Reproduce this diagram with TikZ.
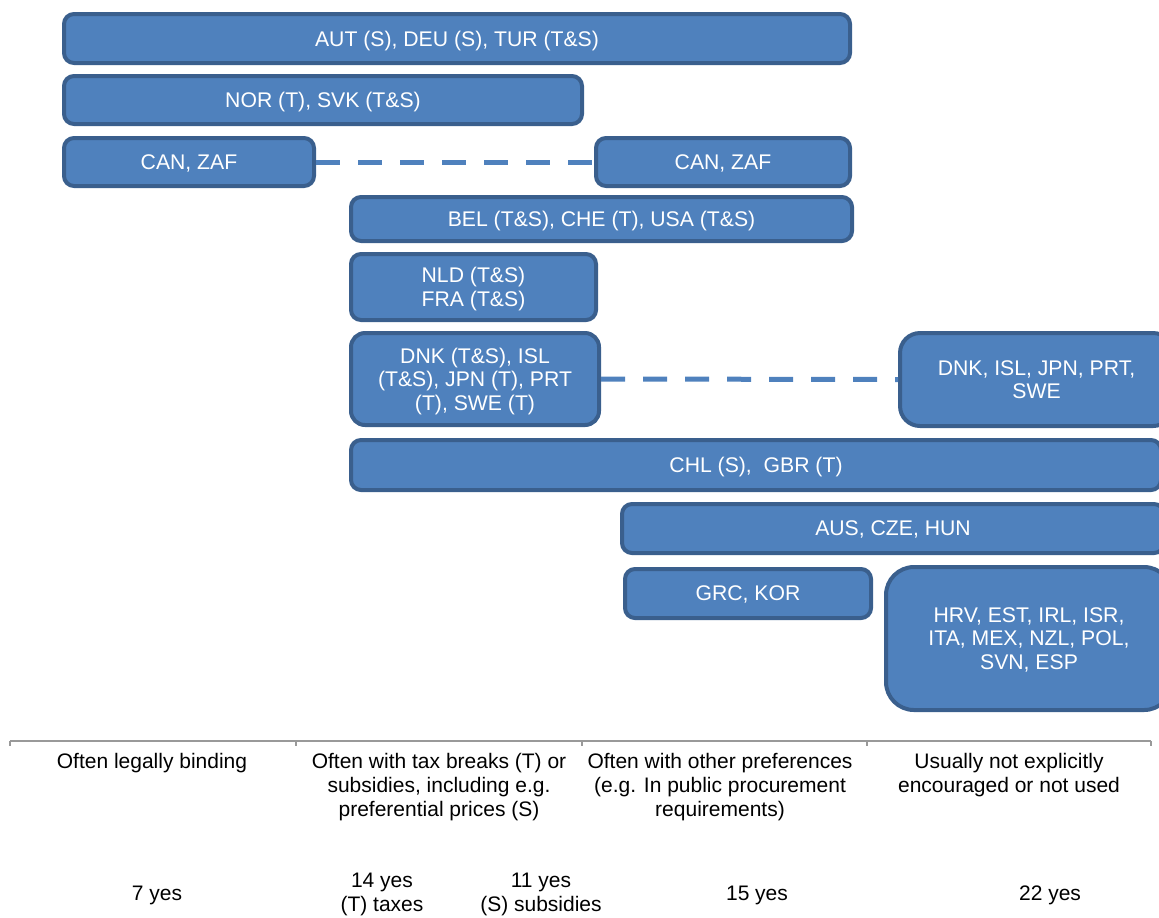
\documentclass[tikz,border=0pt]{standalone}
\usepackage{fontspec}
\setmainfont{Liberation Sans}
\begin{document}
\begin{tikzpicture}[x=0.5pt,y=-0.5pt,
        caja/.style={draw=bborde,fill=bazul,line width=2pt,rounded corners=5pt,
            text=white,align=center,inner sep=0pt,text depth=0pt,font=\fontsize{10.6}{11.8}\selectfont},
        guion/.style={draw=bazul,line width=2.5pt,dash pattern=on 12pt off 9pt},
        texto/.style={align=center,inner sep=0pt,font=\fontsize{10.5}{12}\selectfont}]
        %colores
        \definecolor{bazul}{HTML}{4F81BD}
        \definecolor{bborde}{HTML}{3A5F8D}
        \colorlet{gris}{black!40}

        % Marco de la figura
        \useasboundingbox (0,0) rectangle (1159,917);
        \clip (0,0) rectangle (1159,917);

        % Cajas de paises
        \node[caja,minimum width=393pt,minimum height=24.5pt] (aut) at (457,38.5) {AUT (S), DEU (S), TUR (T\&S)};
        \node[caja,minimum width=259pt,minimum height=24pt] (nor) at (323,100) {NOR (T), SVK (T\&S)};
        \node[caja,minimum width=125pt,minimum height=24pt] (canL) at (189,162) {CAN, ZAF};
        \node[caja,minimum width=127pt,minimum height=24pt] (canR) at (723,162) {CAN, ZAF};
        \node[caja,minimum width=250.5pt,minimum height=22pt] (bel) at (601.5,219) {BEL (T\&S), CHE (T), USA (T\&S)};
        \node[caja,minimum width=122.5pt,minimum height=33pt] (nld) at (473.5,287) {NLD (T\&S)\\FRA (T\&S)};
        \node[caja,rounded corners=7pt,minimum width=124pt,minimum height=46pt] (dnkL) at (475,379) {DNK (T\&S), ISL\\(T\&S), JPN (T), PRT\\(T), SWE (T)};
        \node[caja,rounded corners=10pt,minimum width=136.5pt,minimum height=46.5pt] (dnkR) at (1036.5,379.5) {DNK, ISL, JPN, PRT,\\SWE};
        \node[caja,minimum width=405pt,minimum height=25pt] (chl) at (756,465) {CHL (S), \ GBR (T)};
        \node[caja,minimum width=271pt,minimum height=24.5pt] (aus) at (893,528.5) {AUS, CZE, HUN};
        \node[caja,minimum width=123pt,minimum height=24.5pt] (grc) at (748,593.5) {GRC, KOR};
        \node[caja,rounded corners=14pt,minimum width=143pt,minimum height=71.5pt] (hrv) at (1029,638.5) {HRV, EST, IRL, ISR,\\ITA, MEX, NZL, POL,\\SVN, ESP};

        % Lineas discontinuas
        \draw[guion] (canL.east) -- (canR.west);
        \draw[guion] (dnkL.east) -- (dnkR.west);

        %Eje y marcas
        \begin{scope}
            \draw[gris,line width=0.75pt] (10,741) -- (1151,741);
            \foreach \x in {10,296,582,867,1151}
            \draw[gris,line width=0.75pt] (\x,741) -- (\x,746);
        \end{scope}

        % Categorias
        \node[texto] (cat1) at (152,763) {Often legally binding};
        \node[texto] (cat2) at (439,787) {Often with tax breaks (T) or\\subsidies, including e.g.\\preferential prices (S)};
        \node[texto] (cat3) at (720,787) {Often with other preferences\\(e.g. In public procurement\\requirements)};
        \node[texto] (cat4) at (1009,775) {Usually not explicitly\\encouraged or not used};

        % Conteos
        \node[texto] (yes1) at (157,895) {7 yes};
        \node[texto] (yes2) at (382,894.5) {14 yes\\(T) taxes};
        \node[texto] (yes3) at (541,894.5) {11 yes\\(S) subsidies};
        \node[texto] (yes4) at (757,895) {15 yes};
        \node[texto] (yes5) at (1050,895) {22 yes};
    \end{tikzpicture}
\end{document}
